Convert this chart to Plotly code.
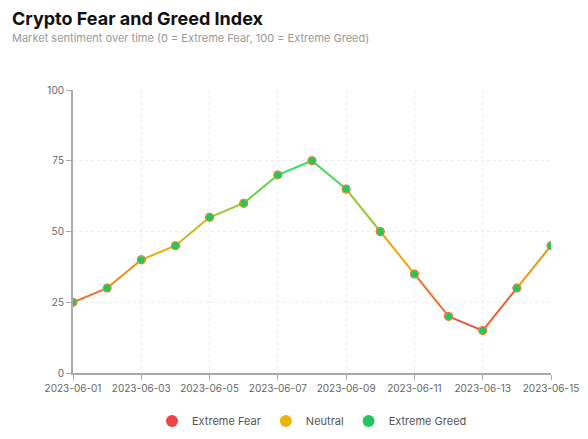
import plotly.graph_objects as go
from plotly.colors import sample_colorscale

# data
dates = ["2023-06-01", "2023-06-02", "2023-06-03", "2023-06-04", "2023-06-05",
         "2023-06-06", "2023-06-07", "2023-06-08", "2023-06-09", "2023-06-10",
         "2023-06-11", "2023-06-12", "2023-06-13", "2023-06-14", "2023-06-15"]
index_values = [25, 30, 40, 45, 55, 60, 70, 75, 65, 50, 35, 20, 15, 30, 45]

series_names = ["Extreme Fear", "Neutral", "Extreme Greed"]
series_colors = ["#ef4444", "#eab308", "#22c55e"]

gradient = [[0, "#ef4444"], [0.5, "#eab308"], [1, "#22e36a"]]
lo, hi = min(index_values), max(index_values)

fig = go.Figure()

# gradient line: one short segment per pair of points, coloured by value
for i in range(len(dates) - 1):
    mid = (index_values[i] + index_values[i + 1]) / 2
    col = sample_colorscale(gradient, [(mid - lo) / (hi - lo)])[0]
    fig.add_trace(go.Scatter(
        x=dates[i:i + 2], y=index_values[i:i + 2], mode="lines",
        line=dict(color=col, width=2), showlegend=False, hoverinfo="skip"))

# the three overlapping marker series (legend entries)
for name, col, size in zip(series_names, series_colors, [9, 8, 7]):
    fig.add_trace(go.Scatter(
        x=dates, y=index_values, mode="markers", name=name,
        marker=dict(color=col, size=size)))

fig.add_annotation(
    text="<b>Crypto Fear and Greed Index</b>", xref="paper", yref="paper",
    x=-0.132, y=1.252, xanchor="left", yanchor="middle", showarrow=False,
    font=dict(size=18, color="#111"))
fig.add_annotation(
    text="Market sentiment over time (0 = Extreme Fear, 100 = Extreme Greed)",
    xref="paper", yref="paper", x=-0.132, y=1.184, xanchor="left",
    yanchor="middle", showarrow=False, font=dict(size=11, color="#999"))

# page body adds an 8px margin, so the figure is 8px smaller each way
fig.update_layout(
    width=580, height=431,
    margin=dict(l=65, r=37, t=82, b=66),
    paper_bgcolor="white", plot_bgcolor="white",
    font=dict(family="Inter", size=11, color="#666"),
    legend=dict(orientation="h", x=0.5, xanchor="center",
                yref="container", y=0.042, yanchor="middle",
                font=dict(size=11, color="#555"), itemsizing="constant"),
    showlegend=True,
)
fig.update_xaxes(
    type="date", range=["2023-06-01", "2023-06-15"], automargin=False,
    tickformat="%Y-%m-%d", dtick=2 * 86400000, tick0="2023-06-01",
    showline=True, linecolor="#aaa", linewidth=2,
    ticks="outside", tickcolor="#aaa", ticklen=5,
    showgrid=True, gridcolor="#ececec", griddash="dot",
    tickfont=dict(size=10, color="#666"))
fig.update_yaxes(
    range=[0, 100], tickvals=[0, 25, 50, 75, 100], automargin=False,
    showline=True, linecolor="#aaa", linewidth=2,
    ticks="outside", tickcolor="#aaa", ticklen=5,
    showgrid=True, gridcolor="#ececec", griddash="dot", zeroline=False,
    tickfont=dict(size=10, color="#666"))

fig.write_html("out.html")
